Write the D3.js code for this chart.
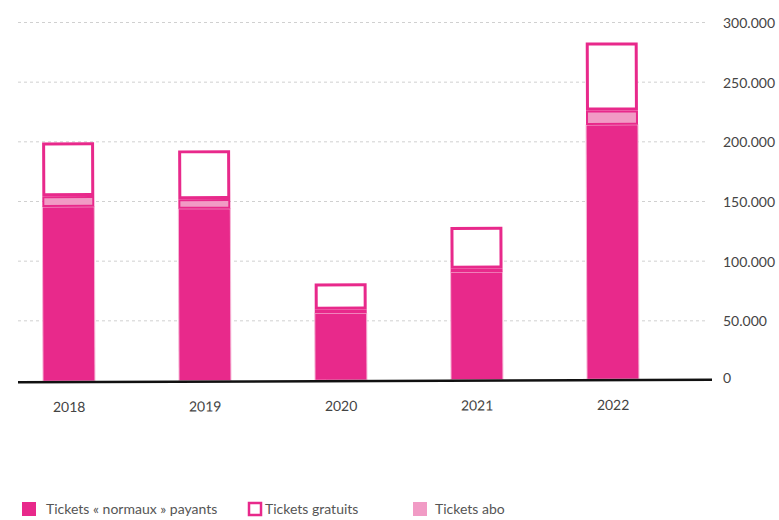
<!DOCTYPE html>
<html>
<head>
<meta charset="utf-8">
<script src="https://cdn.jsdelivr.net/npm/d3@7"></script>
<style>
  body { margin: 0; background: #fff; }
  svg text { font-family: Lato, "Noto Sans", sans-serif; }
</style>
</head>
<body>
<div id="chart"></div>
<script>
// données
var years = ["2018", "2019", "2020", "2021", "2022"];
var normaux = [146000, 144000, 56000, 90000, 213000];
var abo = [9000, 8000, 3000, 3000, 12000];
var gratuits = [45000, 41000, 22000, 35000, 57000];
var yTicks = [0, 50000, 100000, 150000, 200000, 250000, 300000];
var legendLabels = ["Tickets \u00ab normaux \u00bb payants", "Tickets gratuits", "Tickets abo"];

var pink = "#e8298b",
    lightPink = "#f19bc5";

var width = 779, height = 520;

var svg = d3.select("#chart").append("svg")
    .attr("width", width)
    .attr("height", height);

var x = d3.scaleBand()
    .domain(years)
    .range([1, 681])
    .paddingInner(0.618)
    .paddingOuter(0.309);

var y = d3.scaleLinear()
    .domain([0, 300000])
    .range([380, 22]);

var fmt = function (v) {
    return v === 0 ? "0" : d3.format(",")(v).replace(/,/g, ".");
};

// grille
svg.append("g").selectAll("line")
    .data(yTicks.filter(function (d) { return d > 0; }))
    .enter().append("line")
    .attr("x1", 18).attr("x2", 708)
    .attr("y1", function (d) { return y(d) + 0.5; })
    .attr("y2", function (d) { return y(d) + 0.5; })
    .attr("stroke", "#d0d0d0")
    .attr("stroke-dasharray", "3,3");

svg.append("g").selectAll("text")
    .data(yTicks)
    .enter().append("text")
    .attr("x", 723)
    .attr("y", function (d) { return y(d) + (d === 0 ? 3 : 6); })
    .attr("font-size", 14)
    .attr("fill", "#444")
    .text(fmt);

// barres + axe, légèrement inclinés comme sur l'original
var plot = svg.append("g")
    .attr("transform", "rotate(-0.22, 360, 380)");

var rows = years.map(function (yr, i) {
    return { year: yr, n: normaux[i], a: abo[i], g: gratuits[i] };
});

var bars = plot.selectAll("g.bar")
    .data(rows)
    .enter().append("g")
    .attr("class", "bar");

bars.append("rect")
    .attr("x", function (d) { return x(d.year); })
    .attr("width", x.bandwidth())
    .attr("y", function (d) { return y(d.n); })
    .attr("height", function (d) { return y(0) - y(d.n); })
    .attr("fill", pink)
    .attr("stroke", "#f6b8d7")
    .attr("stroke-width", 1);

bars.append("rect")
    .attr("x", function (d) { return x(d.year) + 1; })
    .attr("width", x.bandwidth() - 2)
    .attr("y", function (d) { return y(d.n + d.a) + 1; })
    .attr("height", function (d) { return Math.max(0.5, y(d.n) - y(d.n + d.a) - 2); })
    .attr("fill", lightPink)
    .attr("stroke", pink)
    .attr("stroke-width", 2);

bars.append("rect")
    .attr("x", function (d) { return x(d.year) + 1.5; })
    .attr("width", x.bandwidth() - 3)
    .attr("y", function (d) { return y(d.n + d.a + d.g) + 1.5; })
    .attr("height", function (d) { return y(d.n + d.a) - y(d.n + d.a + d.g) - 3; })
    .attr("fill", "#fff")
    .attr("stroke", pink)
    .attr("stroke-width", 3);

plot.append("line")
    .attr("x1", 18).attr("x2", 712)
    .attr("y1", y(0) + 1).attr("y2", y(0) + 1)
    .attr("stroke", "#111")
    .attr("stroke-width", 2.5);

var xAxis = plot.append("g")
    .attr("transform", "translate(0," + (y(0) + 1) + ")")
    .call(d3.axisBottom(x).tickSize(0).tickPadding(20));
xAxis.select(".domain").remove();
xAxis.selectAll("text")
    .attr("font-family", "Lato, 'Noto Sans', sans-serif")
    .attr("font-size", 14)
    .attr("fill", "#444");

// légende
var legend = svg.append("g");
var legX = [22, 248, 413];

legend.selectAll("rect")
    .data(legendLabels)
    .enter().append("rect")
    .attr("x", function (d, i) { return legX[i] + (i == 1 ? 1 : 0); })
    .attr("y", function (d, i) { return 502 + (i == 1 ? 1 : 0); })
    .attr("width", function (d, i) { return i == 1 ? 12 : 14; })
    .attr("height", function (d, i) { return i == 1 ? 12 : 14; })
    .attr("fill", function (d, i) { return i == 0 ? pink : (i == 1 ? "#fff" : lightPink); })
    .attr("stroke", function (d, i) { return i == 1 ? pink : "none"; })
    .attr("stroke-width", 2.5);

legend.selectAll("text")
    .data(legendLabels)
    .enter().append("text")
    .attr("x", function (d, i) { return legX[i] + [24, 17, 22][i]; })
    .attr("y", 514)
    .attr("font-size", 14)
    .attr("fill", "#555")
    .text(function (d) { return d; });
</script>
</body>
</html>
